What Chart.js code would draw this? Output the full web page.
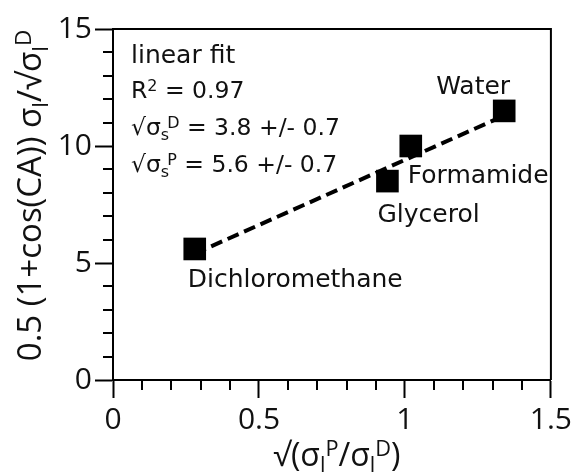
<!DOCTYPE html>
<html>
<head>
<meta charset="utf-8">
<script src="https://cdn.jsdelivr.net/npm/chart.js@4/dist/chart.umd.min.js"></script>
<style>
  html, body { margin: 0; padding: 0; background: #fff; }
  #wrap { width: 576px; height: 475px; }
</style>
</head>
<body>
<div id="wrap"><canvas id="chart" width="576" height="475"></canvas></div>
<script>
// solventes medidos
const solvents = ['Dichloromethane', 'Glycerol', 'Formamide', 'Water'];
const sqrtPolarRatio = [0.28, 0.94, 1.02, 1.34];
const adhesionTerm = [5.6, 8.5, 10.0, 11.5];

// reta do ajuste linear (extremos)
const fitX = [0.28, 1.34];
const fitY = [5.4, 11.3];

const xTicks = [0, 0.5, 1, 1.5];
const yTicks = [0, 5, 10, 15];

const AXIS_FONT = '"Open Sans", "Noto Sans", sans-serif';
const NOTE_FONT = '"DejaVu Sans", sans-serif';
const INK = '#111';

// desenha texto com sub/sobrescritos
function partSize(p, size) {
    return (p.sub || p.sup) ? size * 0.68 : size;
}

function richWidth(ctx, parts, size, family) {
    let w = 0;
    parts.forEach(p => {
        ctx.font = partSize(p, size) + 'px ' + family;
        w += ctx.measureText(p.t).width + (p.dx || 0);
    });
    return w;
}

function drawRich(ctx, x, y, parts, size, family) {
    let cx = x;
    parts.forEach(p => {
        let dy = 0;
        if (p.sub) dy = size * 0.2;
        if (p.sup) dy = -size * 0.3;
        cx += (p.dx || 0);
        ctx.font = partSize(p, size) + 'px ' + family;
        ctx.fillText(p.t, cx, y + dy);
        cx += ctx.measureText(p.t).width;
    });
}

const frameAndText = {
    id: 'frameAndText',
    afterDraw(chart) {
        const ctx = chart.ctx;
        const area = chart.chartArea;
        const xs = chart.scales.x;
        const ys = chart.scales.y;
        ctx.save();

        // moldura (topo e direita)
        ctx.strokeStyle = '#000';
        ctx.lineWidth = 2;
        ctx.beginPath();
        ctx.moveTo(area.left, area.top);
        ctx.lineTo(area.right, area.top);
        ctx.lineTo(area.right, area.bottom);
        ctx.stroke();

        // ticks menores
        ctx.beginPath();
        for (let i = 1; i < 15; i++) {
            if (i % 5 === 0) continue;
            const py = Math.round(ys.getPixelForValue(i));
            ctx.moveTo(area.left - 10, py);
            ctx.lineTo(area.left, py);
            const px = Math.round(xs.getPixelForValue(i / 10));
            ctx.moveTo(px, area.bottom);
            ctx.lineTo(px, area.bottom + 10);
        }
        ctx.stroke();

        ctx.fillStyle = INK;
        ctx.textAlign = 'left';
        ctx.textBaseline = 'alphabetic';

        // rótulos dos pontos
        const offsets = [[-7, 38], [-10, 41], [-3, 37], [-68, -17]];
        const meta = chart.getDatasetMeta(0);
        meta.data.forEach((pt, i) => {
            ctx.font = '25px ' + NOTE_FONT;
            ctx.fillText(solvents[i], pt.x + offsets[i][0], pt.y + offsets[i][1]);
        });

        // anotação do ajuste
        const nx = area.left + 18;
        const ny = area.top;
        const ns = 23.5;
        drawRich(ctx, nx, ny + 34, [{ t: 'linear fit' }], 25, NOTE_FONT);
        drawRich(ctx, nx, ny + 69, [{ t: 'R' }, { t: '2', sup: true }, { t: ' = 0.97' }], ns, NOTE_FONT);
        drawRich(ctx, nx, ny + 106, [{ t: '√σ' }, { t: 's', sub: true }, { t: 'D', sup: true, dx: -2 }, { t: ' = 3.8 +/- 0.7' }], ns, NOTE_FONT);
        drawRich(ctx, nx, ny + 143, [{ t: '√σ' }, { t: 's', sub: true }, { t: 'P', sup: true, dx: -2 }, { t: ' = 5.6 +/- 0.7' }], ns, NOTE_FONT);

        // títulos dos eixos
        const ts = 32;
        const xTitle = [{ t: '√(σ' }, { t: 'l', sub: true }, { t: 'P', sup: true }, { t: '/σ' }, { t: 'l', sub: true }, { t: 'D', sup: true }, { t: ')' }];
        const xw = richWidth(ctx, xTitle, ts, AXIS_FONT);
        drawRich(ctx, (area.left + area.right) / 2 + 5 - xw / 2, 466, xTitle, ts, AXIS_FONT);

        const yTitle = [{ t: '0.5 (1+cos(CA)) σ' }, { t: 'l', sub: true }, { t: '/√σ' }, { t: 'l', sub: true }, { t: 'D', sup: true }];
        const yw = richWidth(ctx, yTitle, 33, AXIS_FONT);
        ctx.translate(41, (area.top + area.bottom) / 2 - 9);
        ctx.rotate(-Math.PI / 2);
        drawRich(ctx, -yw / 2, 0, yTitle, 33, AXIS_FONT);

        ctx.restore();
    }
};

const ctx = document.getElementById('chart');
new Chart(ctx, {
    type: 'scatter',
    data: {
        datasets: [
            {
                label: 'dados',
                data: sqrtPolarRatio.map((x, i) => ({ x: x, y: adhesionTerm[i] })),
                pointStyle: 'rect',
                pointRadius: 16,
                pointHoverRadius: 16,
                backgroundColor: '#000',
                borderColor: '#000',
                borderWidth: 0,
                order: 1
            },
            {
                label: 'ajuste',
                data: fitX.map((x, i) => ({ x: x, y: fitY[i] })),
                showLine: true,
                borderColor: '#000',
                borderWidth: 4,
                borderDash: [12, 6],
                pointRadius: 0,
                order: 2
            }
        ]
    },
    options: {
        responsive: false,
        animation: false,
        layout: { padding: { left: 0, top: 29, right: 23, bottom: 0 } },
        plugins: {
            legend: { display: false },
            tooltip: { enabled: false }
        },
        scales: {
            x: {
                type: 'linear',
                min: 0,
                max: 1.5,
                afterFit: s => { s.height = 95; },
                afterBuildTicks: s => { s.ticks = xTicks.map(v => ({ value: v })); },
                ticks: {
                    font: { family: AXIS_FONT, size: 30 },
                    color: INK,
                    padding: 4,
                    maxRotation: 0,
                    callback: v => String(v)
                },
                grid: { drawOnChartArea: false, drawTicks: true, tickLength: 18, tickWidth: 2, color: '#000' },
                border: { display: true, width: 2, color: '#000' }
            },
            y: {
                type: 'linear',
                min: 0,
                max: 15,
                afterFit: s => { s.width = 113; },
                afterBuildTicks: s => { s.ticks = yTicks.map(v => ({ value: v })); },
                ticks: {
                    font: { family: AXIS_FONT, size: 30 },
                    color: INK,
                    padding: 3,
                    callback: v => String(v)
                },
                grid: { drawOnChartArea: false, drawTicks: true, tickLength: 18, tickWidth: 2, color: '#000' },
                border: { display: true, width: 2, color: '#000' }
            }
        }
    },
    plugins: [frameAndText]
});
</script>
</body>
</html>
